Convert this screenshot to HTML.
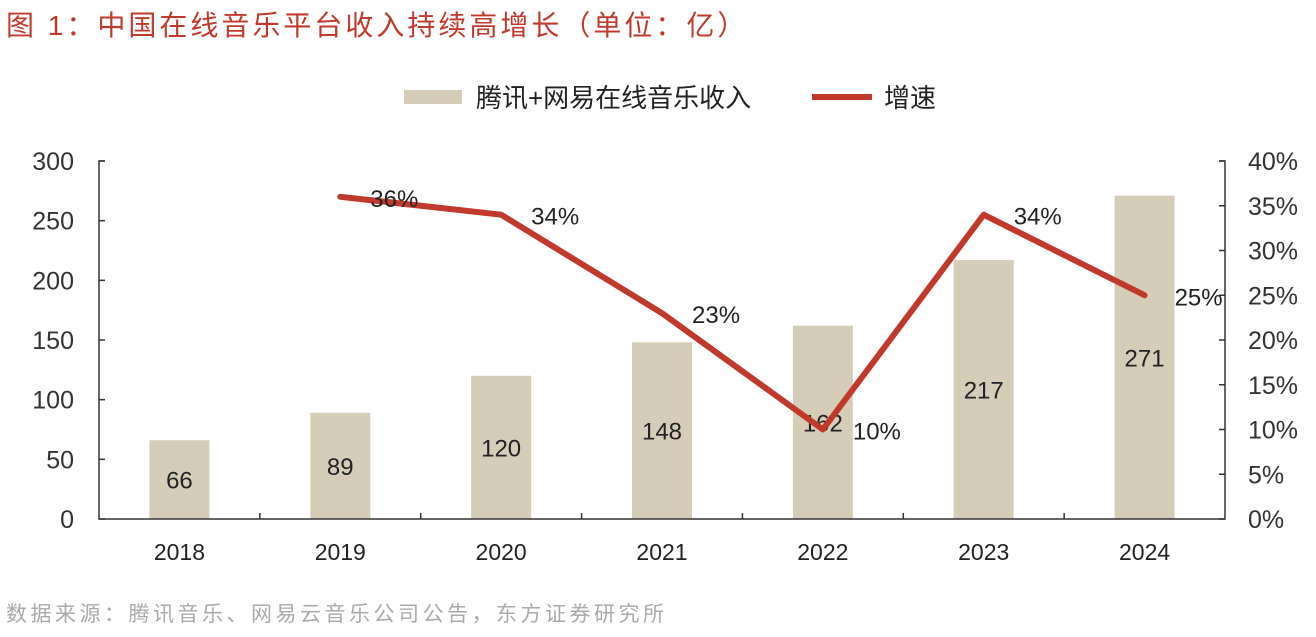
<!DOCTYPE html>
<html><head><meta charset="utf-8"><style>
body{margin:0;background:#fff;width:1316px;height:632px;overflow:hidden;font-family:"Liberation Sans","Noto Sans CJK SC",sans-serif;}
svg text{font-family:"Liberation Sans","Noto Sans CJK SC",sans-serif;}
</style></head><body>
<svg width="1316" height="632">
<text x="6" y="35" font-size="28" letter-spacing="3" fill="#c0392b">图 1：中国在线音乐平台收入持续高增长（单位：亿）</text>
<g>
<rect x="404" y="90" width="58" height="14" fill="#d6cdb8"/>
<text x="476" y="107" font-size="26" fill="#222">腾讯+网易在线音乐收入</text>
<line x1="812" y1="97" x2="872" y2="97" stroke="#c0392b" stroke-width="6"/>
<text x="884" y="107" font-size="26" fill="#222">增速</text>
</g>
<g id="plot"></g>
<text x="6" y="621" font-size="21" letter-spacing="3.5" fill="#aaa">数据来源：腾讯音乐、网易云音乐公司公告，东方证券研究所</text>
</svg>
<script>
const categories=["2018","2019","2020","2021","2022","2023","2024"];
const revenue=[66,89,120,148,162,217,271];
const growth=[null,36,34,23,10,34,25];
const leftTicks=[0,50,100,150,200,250,300];
const rightTicks=[0,5,10,15,20,25,30,35,40];
const NS="http://www.w3.org/2000/svg";
const g=document.getElementById('plot');
const L=99,R=1225,T=161,B=519;
const step=(R-L)/categories.length;
const x=i=>L+step*(i+0.5);
const yL=v=>B-(v/300)*(B-T);
const yR=v=>B-(v/40)*(B-T);
function mk(t,a){const e=document.createElementNS(NS,t);for(const k in a)e.setAttribute(k,a[k]);g.appendChild(e);return e;}
revenue.forEach((v,i)=>{
 const r=mk('rect',{x:x(i)-30,y:yL(v),width:60,height:B-yL(v),fill:'#d6cdb8'});
 
 
 const t=mk('text',{x:x(i),y:yL(v/2)+9,'font-size':24,'text-anchor':'middle',fill:'#222'});
 t.textContent=v;
 
 
 const c=mk('text',{x:x(i),y:560,'font-size':23,'text-anchor':'middle',fill:'#222'});
 c.textContent=categories[i];
 
 
});
const ax=mk('path',{d:`M${L+6},${T}H${L}V${B}H${R}V${T}H${R-6}`,fill:'none',stroke:'#333','stroke-width':1.5});


for(let i=1;i<categories.length;i++){mk('line',{x1:L+step*i,x2:L+step*i,y1:B,y2:B-6,stroke:'#333','stroke-width':1.5});}
leftTicks.forEach(v=>{
 mk('line',{x1:L,x2:L+6,y1:yL(v),y2:yL(v),stroke:'#333','stroke-width':1.5});
 const t=mk('text',{x:74,y:yL(v)+9,'font-size':25,'text-anchor':'end',fill:'#333'});
 t.textContent=v;
 
 
});
rightTicks.forEach(v=>{
 mk('line',{x1:R,x2:R-6,y1:yR(v),y2:yR(v),stroke:'#333','stroke-width':1.5});
 const t=mk('text',{x:1248,y:yR(v)+9,'font-size':25,fill:'#333'});
 t.textContent=v+'%';
 
 
});
let d='';
growth.forEach((v,i)=>{if(v==null)return;d+=(d?'L':'M')+x(i)+','+yR(v);});
const ln=mk('path',{d:d,fill:'none',stroke:'#c0392b','stroke-width':6,'stroke-linejoin':'round','stroke-linecap':'round'});


growth.forEach((v,i)=>{if(v==null)return;
 const t=mk('text',{x:x(i)+30,y:yR(v)+10,'font-size':24,fill:'#222'});
 t.textContent=v+'%';
 
 
});
</script>
</body></html>
